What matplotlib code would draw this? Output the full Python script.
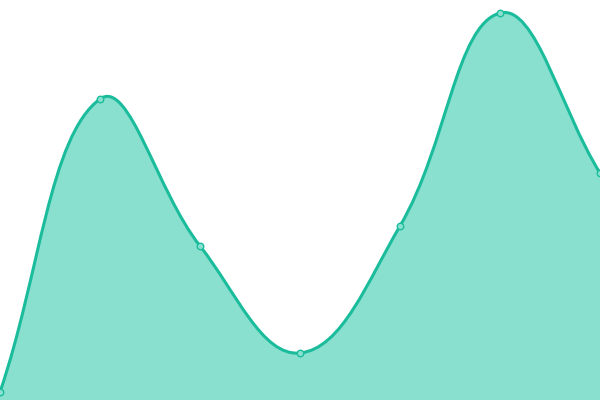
import numpy as np
import matplotlib
matplotlib.use("Agg")
import matplotlib.pyplot as plt
from matplotlib.path import Path
from matplotlib.patches import PathPatch

# point positions (x) and values (y)
xs = [0, 100, 200, 300, 400, 500, 600]
values = [8, 301, 154, 47, 174, 387, 227]

LINE = "#1abc9c"
FILL = "#8ae0cf"
TENSION = 0.4


def control_points(px, py, t):
    """Chart.js-like spline control points for each point."""
    n = len(px)
    cps = []
    for i in range(n):
        p0 = (px[max(i - 1, 0)], py[max(i - 1, 0)])
        p1 = (px[i], py[i])
        p2 = (px[min(i + 1, n - 1)], py[min(i + 1, n - 1)])
        d01 = np.hypot(p1[0] - p0[0], p1[1] - p0[1])
        d12 = np.hypot(p2[0] - p1[0], p2[1] - p1[1])
        tot = d01 + d12
        s01 = d01 / tot if tot else 0
        s12 = d12 / tot if tot else 0
        fa, fb = t * s01, t * s12
        prev = (p1[0] - fa * (p2[0] - p0[0]), p1[1] - fa * (p2[1] - p0[1]))
        nxt = (p1[0] + fb * (p2[0] - p0[0]), p1[1] + fb * (p2[1] - p0[1]))
        cps.append((prev, nxt))
    return cps


fig = plt.figure(figsize=(6, 4), dpi=100)
ax = fig.add_axes([0, 0, 1, 1])
ax.set_xlim(0, 600)
ax.set_ylim(0, 400)
ax.axis("off")

cps = control_points(xs, values, TENSION)
verts = [(xs[0], values[0])]
codes = [Path.MOVETO]
for i in range(len(xs) - 1):
    c1 = cps[i][1]
    c2 = cps[i + 1][0]
    c1 = (c1[0], min(max(c1[1], 0), 400))
    c2 = (c2[0], min(max(c2[1], 0), 400))
    verts += [c1, c2, (xs[i + 1], values[i + 1])]
    codes += [Path.CURVE4] * 3

line_path = Path(verts, codes)
fill_path = Path(verts + [(xs[-1], 0), (xs[0], 0), (xs[0], values[0])],
                 codes + [Path.LINETO, Path.LINETO, Path.CLOSEPOLY])

ax.add_patch(PathPatch(fill_path, facecolor=FILL, edgecolor="none"))
ax.add_patch(PathPatch(line_path, facecolor="none", edgecolor=LINE, linewidth=2.2,
                       capstyle="round", joinstyle="round"))
ax.scatter(xs, values, s=22, facecolor=FILL, edgecolor=LINE, linewidth=1,
           zorder=5, clip_on=False)

fig.savefig("out.png", dpi=100)
